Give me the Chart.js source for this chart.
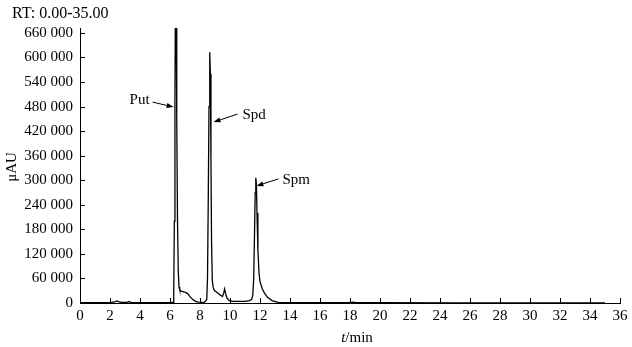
<!DOCTYPE html>
<html>
<head>
<meta charset="utf-8">
<script src="https://cdn.jsdelivr.net/npm/chart.js@4"></script>
<style>
    html, body { margin: 0; padding: 0; background: #fff; }
    #wrap { width: 632px; height: 347px; }
</style>
</head>
<body>
<div id="wrap"><canvas id="chromChart" width="632" height="347"></canvas></div>
<script>
// retention time (min) and detector response (μAU)
const rtMin = [0, 0.5, 1.0, 1.5, 2.0, 2.3, 2.45, 2.6, 2.8, 3.1, 3.25, 3.4, 3.7, 4.2, 5.0, 5.8,
    6.2, 6.25, 6.29, 6.33, 6.36, 6.41, 6.45, 6.5, 6.55, 6.6, 6.65, 6.75, 6.9, 7.05, 7.2, 7.35, 7.5, 7.7, 7.9, 8.1, 8.3,
    8.45, 8.5, 8.55, 8.6, 8.65, 8.69, 8.73, 8.77, 8.82, 8.88, 8.95, 9.1, 9.3, 9.5, 9.58, 9.64, 9.7, 9.8, 9.95,
    10.2, 10.6, 11.0, 11.3, 11.45, 11.52, 11.58, 11.63, 11.68, 11.72, 11.76, 11.8, 11.86, 11.93, 12.0, 12.15, 12.3, 12.5,
    12.8, 13.2, 14, 16, 18.0, 18.2, 18.4, 18.6, 20, 25, 30, 35];
const response = [800, 900, 800, 900, 1000, 2500, 5000, 3000, 1500, 1200, 3500, 1500, 1000, 800, 700, 800,
    1500, 30000, 200000, 500000, 720000, 720000, 450000, 200000, 80000, 40000, 32000, 29000, 27000, 26000, 22000, 15000, 9000, 4000, 2000, 1500, 2000,
    8000, 60000, 250000, 480000, 613000, 560000, 350000, 150000, 55000, 38000, 31000, 27000, 21000, 16000, 24000, 34000, 24000, 12000, 6000,
    4200, 3800, 4000, 6000, 9000, 20000, 60000, 160000, 270000, 306000, 290000, 220000, 130000, 75000, 52000, 35000, 24000, 14000,
    6000, 1500, 800, 700, 700, 2000, 900, 700, 600, 500, 500, 500];

const yTicks = [0, 60000, 120000, 180000, 240000, 300000, 360000, 420000, 480000, 540000, 600000, 660000];
const xTicks = [0, 2, 4, 6, 8, 10, 12, 14, 16, 18, 20, 22, 24, 26, 28, 30, 32, 34, 36];

// peak labels: text anchor, arrow tail, arrow tip (in data units)
const peakNames = ['Put', 'Spd', 'Spm'];
const labelAt = [[4.64, 495900], [10.83, 459300], [13.50, 300700]];
const arrowFrom = [[4.84, 491000], [10.50, 461700], [13.23, 303200]];
const arrowTo = [[6.24, 478800], [8.90, 442000], [11.76, 286100]];

const serif = '"Liberation Serif", "DejaVu Serif", serif';

const decorations = {
    id: 'decorations',
    afterDraw(chart) {
        const ctx = chart.ctx;
        const xs = chart.scales.x;
        const ys = chart.scales.y;
        const area = chart.chartArea;
        ctx.save();
        ctx.strokeStyle = '#000';
        ctx.fillStyle = '#000';
        ctx.lineWidth = 1;

        // inward tick marks
        ctx.beginPath();
        yTicks.forEach(v => {
            const py = Math.round(ys.getPixelForValue(v)) + 0.5;
            ctx.moveTo(area.left, py);
            ctx.lineTo(area.left + 5, py);
        });
        xTicks.forEach(v => {
            const px = Math.round(xs.getPixelForValue(v)) + 0.5;
            ctx.moveTo(px, area.bottom);
            ctx.lineTo(px, area.bottom - 5);
        });
        ctx.stroke();

        ctx.textBaseline = 'middle';

        // header
        ctx.font = '16px ' + serif;
        ctx.textAlign = 'left';
        ctx.fillText('RT: 0.00-35.00', 12, 14);

        // axis titles
        ctx.font = '15px ' + serif;
        ctx.save();
        ctx.translate(12, 167);
        ctx.rotate(-Math.PI / 2);
        ctx.textAlign = 'center';
        ctx.fillText('μAU', 0, 0);
        ctx.restore();

        ctx.font = 'italic 15px ' + serif;
        const tw = ctx.measureText('t').width;
        ctx.font = '15px ' + serif;
        const mw = ctx.measureText('/min').width;
        const startX = 357 - (tw + mw) / 2;
        ctx.textAlign = 'left';
        ctx.font = 'italic 15px ' + serif;
        ctx.fillText('t', startX, 338);
        ctx.font = '15px ' + serif;
        ctx.fillText('/min', startX + tw, 338);

        // peak labels with arrows
        peakNames.forEach((name, i) => {
            const lx = xs.getPixelForValue(labelAt[i][0]);
            const ly = ys.getPixelForValue(labelAt[i][1]);
            ctx.textAlign = i === 0 ? 'right' : 'left';
            ctx.fillText(name, lx, ly);

            const x1 = xs.getPixelForValue(arrowFrom[i][0]);
            const y1 = ys.getPixelForValue(arrowFrom[i][1]);
            const x2 = xs.getPixelForValue(arrowTo[i][0]);
            const y2 = ys.getPixelForValue(arrowTo[i][1]);
            const ang = Math.atan2(y2 - y1, x2 - x1);
            const hl = 7, hw = 2.5;
            ctx.beginPath();
            ctx.moveTo(x1, y1);
            ctx.lineTo(x2 - hl * Math.cos(ang), y2 - hl * Math.sin(ang));
            ctx.stroke();
            ctx.beginPath();
            ctx.moveTo(x2, y2);
            ctx.lineTo(x2 - hl * Math.cos(ang) + hw * Math.sin(ang), y2 - hl * Math.sin(ang) - hw * Math.cos(ang));
            ctx.lineTo(x2 - hl * Math.cos(ang) - hw * Math.sin(ang), y2 - hl * Math.sin(ang) + hw * Math.cos(ang));
            ctx.closePath();
            ctx.fill();
        });
        ctx.restore();
    }
};

const ctx = document.getElementById('chromChart').getContext('2d');
new Chart(ctx, {
    type: 'line',
    data: {
        datasets: [{
            data: rtMin.map((t, i) => ({ x: t, y: response[i] })),
            borderColor: '#000',
            borderWidth: 1.3,
            pointRadius: 0,
            tension: 0,
            fill: false
        }]
    },
    options: {
        responsive: false,
        animation: false,
        devicePixelRatio: 1,
        layout: { padding: { top: 28, right: 12, left: 0, bottom: 0 } },
        plugins: {
            legend: { display: false },
            tooltip: { enabled: false }
        },
        scales: {
            x: {
                type: 'linear',
                min: 0,
                max: 36,
                afterBuildTicks: (scale) => { scale.ticks = xTicks.map(v => ({ value: v })); },
                afterFit: (scale) => { scale.height = 44; },
                grid: { drawOnChartArea: false, drawTicks: false },
                border: { display: true, color: '#000', width: 1 },
                ticks: {
                    color: '#000',
                    padding: 4,
                    maxRotation: 0,
                    autoSkip: false,
                    font: { family: serif, size: 15 }
                }
            },
            y: {
                type: 'linear',
                min: 0,
                max: 672000,
                afterBuildTicks: (scale) => { scale.ticks = yTicks.map(v => ({ value: v })); },
                afterFit: (scale) => { scale.width = 80; },
                grid: { drawOnChartArea: false, drawTicks: false },
                border: { display: true, color: '#000', width: 1 },
                ticks: {
                    color: '#000',
                    padding: 7,
                    autoSkip: false,
                    font: { family: serif, size: 15 },
                    callback: (v) => v === 0 ? '0' : Math.floor(v / 1000) + ' 000'
                }
            }
        }
    },
    plugins: [decorations]
});
</script>
</body>
</html>
